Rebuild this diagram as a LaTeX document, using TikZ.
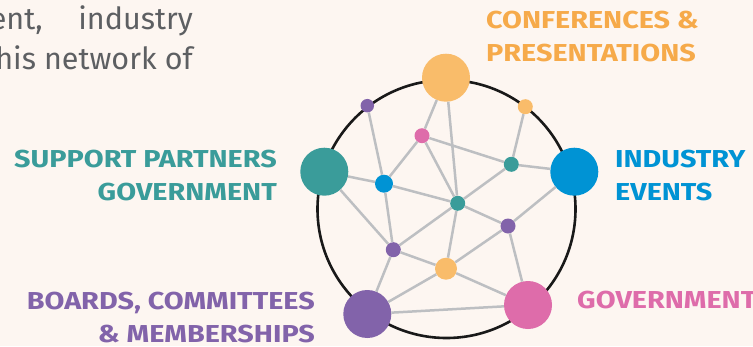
\documentclass[tikz,border=0pt]{standalone}
\usepackage{fontspec}
\setmainfont{Fira Sans}
\newfontfamily\labfont[FakeStretch=1.175]{Fira Sans}
\definecolor{bg}{HTML}{FDF6F1}
\definecolor{cor}{HTML}{F9BC6A}
\definecolor{corT}{HTML}{F6AA4A}
\definecolor{cteal}{HTML}{3A9C9A}
\definecolor{cblue}{HTML}{0093D4}
\definecolor{cpur}{HTML}{8263AA}
\definecolor{cpink}{HTML}{DE6CAA}
\definecolor{cedge}{HTML}{BDBFC2}
\definecolor{cbody}{HTML}{5D5F62}
\tikzset{
  dot/.style={circle,inner sep=0pt,draw=none,fill=#1},
  big/.style={dot=#1,minimum size=48pt},
  sml/.style={dot=#1,minimum size=15pt},
  lnk/.style={draw=cedge,line width=2.5pt},
  lab/.style={inner sep=0pt,font=\labfont\fontsize{24.5}{30}\selectfont\bfseries,text=#1},
  body/.style={inner sep=0pt,font=\fontsize{30.5}{34}\selectfont,text=cbody},
}
\begin{document}
\begin{tikzpicture}[x=1pt,y=-1pt]
\useasboundingbox (0,0) rectangle (753,346);
\fill[bg] (0,0) rectangle (753,346);
\clip (0,0) rectangle (753,346);
% body text
\node[body,anchor=base east] (t1) at (43,29.5) {ent,};
\node[body,anchor=base east] (t2) at (193,29.5) {industry};
\node[body,anchor=base east] (t3) at (193,69.5) {his network of};
% ring
\draw[line width=2.6pt,black!90] (446.5,209) circle[radius=129pt];
% nodes
\node[big=cor] (CO) at (446,77.7) {};
\node[big=cteal] (SP) at (324.3,171.7) {};
\node[big=cblue] (IE) at (574.3,171.7) {};
\node[big=cpur] (BC) at (367.3,314) {};
\node[big=cpink] (GV) at (528,305) {};
\node[dot=cpur,minimum size=13.5pt] (a) at (367.3,105.7) {};
\node[dot=cor,minimum size=15pt] (b) at (525.3,106.7) {};
\node[sml=cpink] (c) at (422,135.7) {};
\node[sml=cteal] (d) at (511.3,164.3) {};
\node[dot=cblue,minimum size=18pt] (e) at (384,183.7) {};
\node[sml=cteal] (f) at (457.7,203.3) {};
\node[sml=cpur] (g) at (508,226) {};
\node[sml=cpur] (h) at (393.3,249.7) {};
\node[dot=cor,minimum size=22pt] (i) at (446,268.7) {};
% links
\foreach \u/\v in {a/e,CO/c,CO/f,b/d,c/d,c/e,c/f,SP/e,e/f,e/h,SP/h,d/IE,d/f,f/h,f/i,f/g,IE/g,g/i,g/GV,h/i,h/BC,i/BC,i/GV,BC/GV}
  \path[lnk] (\u) -- (\v);
% labels
\node[lab=corT,anchor=base west] (l1) at (486,28.3) {CONFERENCES \&};
\node[lab=corT,anchor=base west] (l2) at (486,61.7) {PRESENTATIONS};
\node[lab=cteal,anchor=base east] (l3) at (277,167.3) {SUPPORT PARTNERS};
\node[lab=cteal,anchor=base east] (l4) at (277,200.7) {GOVERNMENT};
\node[lab=cblue,anchor=base west] (l5) at (615,167.3) {INDUSTRY};
\node[lab=cblue,anchor=base west] (l6) at (615,200.7) {EVENTS};
\node[lab=cpur,anchor=base east] (l7) at (315,309.3) {BOARDS, COMMITTEES};
\node[lab=cpur,anchor=base east] (l8) at (315,342.5) {\& MEMBERSHIPS};
\node[lab=cpink,anchor=base west] (l9) at (577,308.3) {GOVERNMENT};
\end{tikzpicture}
\end{document}
